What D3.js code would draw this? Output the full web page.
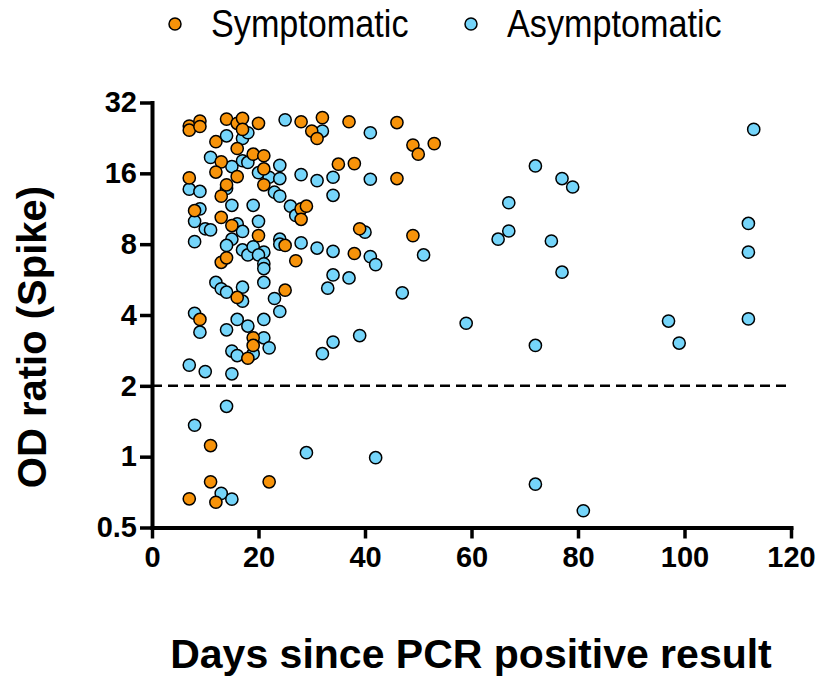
<!DOCTYPE html>
<html>
<head>
<meta charset="utf-8">
<script src="https://cdn.jsdelivr.net/npm/d3@7"></script>
<style>
  body { margin: 0; background: #fff; }
  text { font-family: "Liberation Sans", Arial, sans-serif; }
</style>
</head>
<body>
<div id="chart"></div>
<script>
// Symptomatic: days since PCR positive result / OD ratio
var symDays = [7, 7, 9, 9, 14, 16, 17, 17, 20, 28, 32, 30, 31, 37, 46, 49, 50, 53,
  12, 16, 19, 21, 13, 12, 16, 21, 7, 14, 21, 13, 8, 13, 15, 20, 25, 28, 28,
  27, 13, 14, 25, 16, 9, 19, 19, 18, 11, 11, 22, 7, 12, 35, 38, 46, 29, 39, 49, 38];
var symOD = [25.4, 24.4, 26.7, 25.3, 27.2, 26.1, 27.4, 24.6, 26.1, 26.5, 27.6, 24.2, 22.5, 26.5, 26.3, 21.1, 19.3, 21.4,
  21.8, 20.4, 19.3, 19.0, 17.9, 16.2, 15.5, 16.7, 15.3, 14.3, 14.3, 12.8, 11.1, 10.4, 9.6, 8.7, 7.9, 11.3, 10.2,
  6.8, 6.7, 7.0, 5.1, 4.75, 3.83, 3.2, 2.97, 2.62, 1.115, 0.782, 0.782, 0.662, 0.64, 17.5, 17.6, 15.2, 11.6, 9.3, 8.7, 7.3];

// Asymptomatic
var asymDays = [25, 14, 17, 18, 11, 15, 17, 18, 20, 22, 24, 24, 28, 7, 9, 14, 23, 24, 15, 19, 9, 8, 20, 10, 11,
  16, 17, 15, 8, 26, 27, 24, 28, 14, 17, 18, 19, 21, 20, 21, 21, 24, 21, 12, 13, 14, 17, 17, 23, 24, 8, 9,
  14, 16, 18, 21, 21, 22, 15, 16, 19, 7, 10, 15, 14, 8, 29, 13, 15, 32, 41, 31, 34, 41, 34, 40, 31, 34, 41,
  42, 51, 34, 37, 33, 47, 59, 34, 32, 39, 42, 113, 72, 77, 79, 67, 67, 65, 75, 77, 112, 112, 72, 97, 99, 112, 72, 81];
var asymOD = [27.0, 23.1, 22.5, 23.8, 18.7, 17.1, 18.1, 17.8, 16.1, 15.4, 17.3, 15.2, 15.8, 13.7, 13.4, 13.8, 13.3, 12.8, 11.7, 11.7, 11.3, 10.0, 10.0, 9.3, 9.2,
  9.75, 9.06, 8.4, 8.2, 11.6, 10.6, 8.4, 8.1, 7.9, 7.56, 7.2, 7.8, 7.4, 7.2, 6.6, 6.3, 8.0, 5.5, 5.5, 5.17, 5.0, 5.25, 4.58, 4.7, 4.14, 4.07, 3.38,
  3.46, 3.83, 3.59, 3.83, 3.2, 2.9, 2.81, 2.69, 2.74, 2.45, 2.3, 2.25, 1.637, 1.36, 1.04, 0.698, 0.66, 24.2, 23.8, 14.9, 15.4, 15.1, 12.9, 9.0, 7.7, 7.46, 7.08,
  6.55, 7.2, 5.92, 5.75, 5.2, 4.97, 3.69, 3.07, 2.74, 3.27, 0.99, 24.6, 17.2, 15.2, 14.0, 12.0, 9.1, 8.4, 8.25, 6.08, 9.8, 7.4, 2.97, 3.77, 3.04, 3.85, 0.764, 0.589];

var xTicks = [0, 20, 40, 60, 80, 100, 120];
var yTicks = [0.5, 1, 2, 4, 8, 16, 32];
var cutoff = 2;

var symColor = "#F7930A", asymColor = "#75D5FA";

var width = 821, height = 680;
var svg = d3.select("#chart").append("svg")
  .attr("width", width)
  .attr("height", height);

var x = d3.scaleLinear().domain([0, 120]).range([152, 791]);
var y = d3.scaleLog().base(2).domain([0.5, 32]).range([527.5, 102.5]);

// dashed cutoff line
svg.append("line")
  .attr("x1", x(0)).attr("x2", x(119.3))
  .attr("y1", y(cutoff)).attr("y2", y(cutoff))
  .attr("stroke", "#000")
  .attr("stroke-width", 2.5)
  .attr("stroke-dasharray", "10,6");

// points
var asym = asymDays.map(function (d, i) { return [d, asymOD[i]]; });
var sym = symDays.map(function (d, i) { return [d, symOD[i]]; });

svg.selectAll(".asym")
  .data(asym)
  .enter()
  .append("circle")
  .attr("class", "asym")
  .attr("cx", function (d) { return x(d[0]); })
  .attr("cy", function (d) { return y(d[1]); })
  .attr("r", 6.1)
  .attr("fill", asymColor)
  .attr("stroke", "#000")
  .attr("stroke-width", 1.5);

svg.selectAll(".sym")
  .data(sym)
  .enter()
  .append("circle")
  .attr("class", "sym")
  .attr("cx", function (d) { return x(d[0]); })
  .attr("cy", function (d) { return y(d[1]); })
  .attr("r", 6.1)
  .attr("fill", symColor)
  .attr("stroke", "#000")
  .attr("stroke-width", 1.5);

// axes
var xAxis = svg.append("g")
  .attr("transform", "translate(0," + y(0.5) + ")")
  .call(d3.axisBottom(x).tickValues(xTicks).tickSize(11).tickSizeOuter(0).tickPadding(8));
var yAxis = svg.append("g")
  .attr("transform", "translate(" + x(0) + ",0)")
  .call(d3.axisLeft(y).tickValues(yTicks).tickSize(12).tickSizeOuter(0).tickPadding(3)
    .tickFormat(function (d) { return d; }));

[xAxis, yAxis].forEach(function (g) {
  g.select(".domain").attr("stroke-width", 4).attr("stroke-linecap", "square");
  g.selectAll(".tick line").attr("stroke-width", 3.5);
  g.selectAll(".tick text")
    .attr("fill", "#000")
    .style("font-family", "'Liberation Sans', Arial, sans-serif")
    .style("font-weight", "bold")
    .style("font-size", "29px");
});

// axis titles
svg.append("text")
  .attr("x", 471).attr("y", 668)
  .attr("text-anchor", "middle")
  .style("font-weight", "bold")
  .style("font-size", "41px")
  .text("Days since PCR positive result");

svg.append("text")
  .attr("transform", "translate(46,337) rotate(-90)")
  .attr("text-anchor", "middle")
  .style("font-weight", "bold")
  .style("font-size", "40px")
  .text("OD ratio (Spike)");

// legend
var legend = [["Symptomatic", symColor, 175], ["Asymptomatic", asymColor, 471]];
legend.forEach(function (l) {
  svg.append("circle")
    .attr("cx", l[2]).attr("cy", 24).attr("r", 6)
    .attr("fill", l[1]).attr("stroke", "#000").attr("stroke-width", 1.5);
  svg.append("text")
    .attr("transform", "translate(" + (l[2] + 36) + ",37) scale(0.9,1)")
    .style("font-size", "38px")
    .text(l[0]);
});
</script>
</body>
</html>
